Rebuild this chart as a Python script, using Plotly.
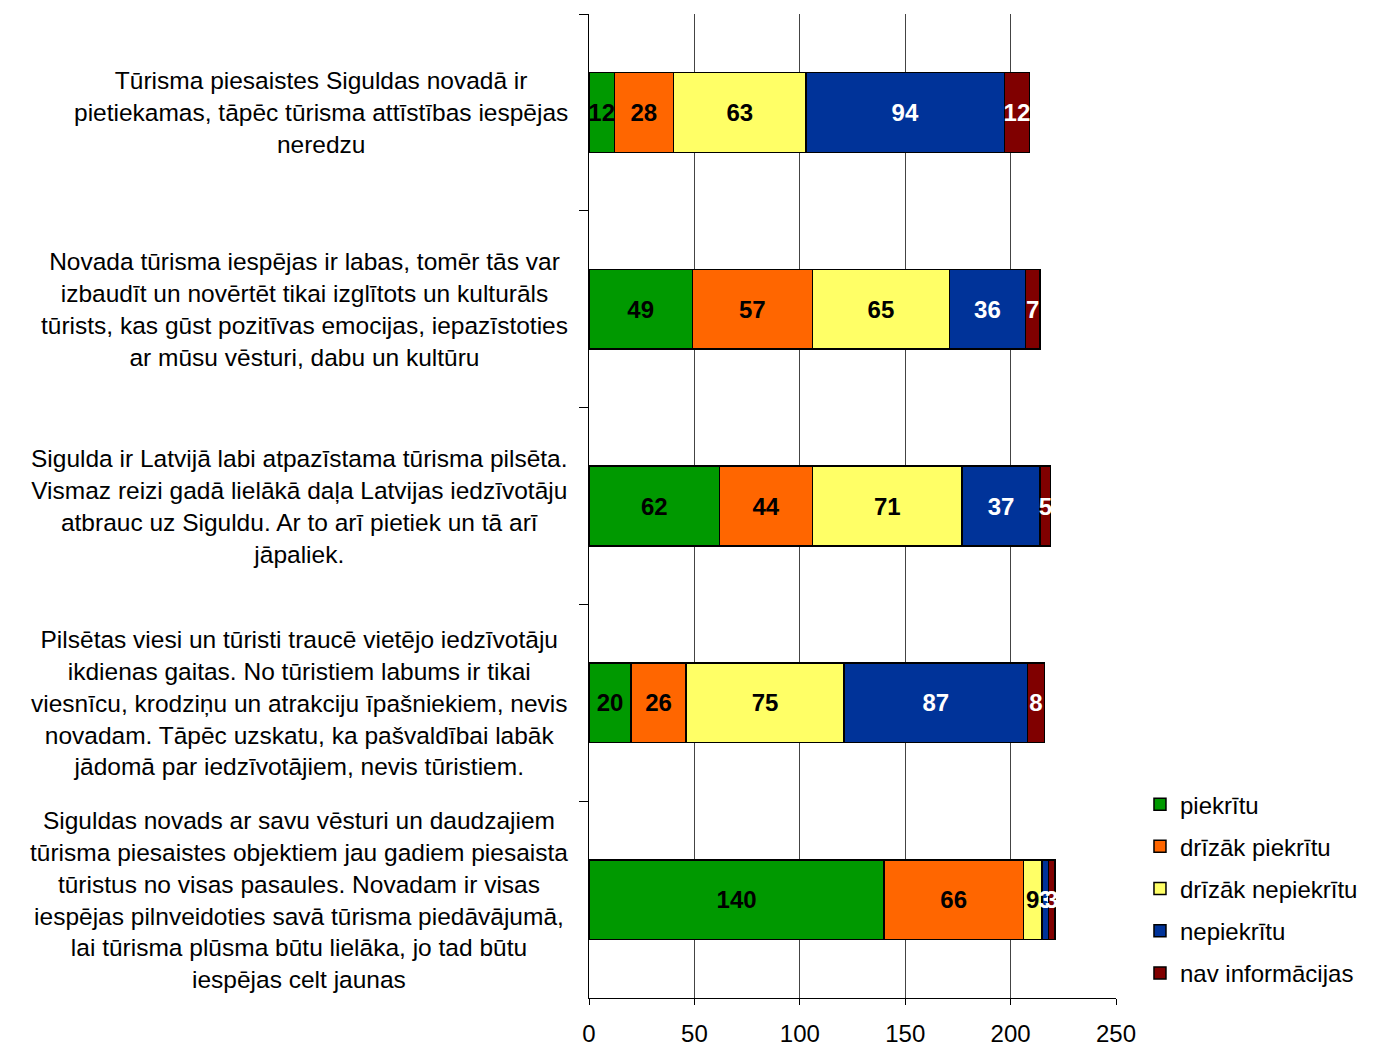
import plotly.graph_objects as go

categories = [
    "Tūrisma piesaistes Siguldas novadā ir<br>pietiekamas, tāpēc tūrisma attīstības iespējas<br>neredzu",
    "Novada tūrisma iespējas ir labas, tomēr tās var<br>izbaudīt un novērtēt tikai izglītots un kulturāls<br>tūrists, kas gūst pozitīvas emocijas, iepazīstoties<br>ar mūsu vēsturi, dabu un kultūru",
    "Sigulda ir Latvijā labi atpazīstama tūrisma pilsēta.<br>Vismaz reizi gadā lielākā daļa Latvijas iedzīvotāju<br>atbrauc uz Siguldu. Ar to arī pietiek un tā arī<br>jāpaliek.",
    "Pilsētas viesi un tūristi traucē vietējo iedzīvotāju<br>ikdienas gaitas. No tūristiem labums ir tikai<br>viesnīcu, krodziņu un atrakciju īpašniekiem, nevis<br>novadam. Tāpēc uzskatu, ka pašvaldībai labāk<br>jādomā par iedzīvotājiem, nevis tūristiem.",
    "Siguldas novads ar savu vēsturi un daudzajiem<br>tūrisma piesaistes objektiem jau gadiem piesaista<br>tūristus no visas pasaules. Novadam ir visas<br>iespējas pilnveidoties savā tūrisma piedāvājumā,<br>lai tūrisma plūsma būtu lielāka, jo tad būtu<br>iespējas celt jaunas",
]
cat_ids = ["c1", "c2", "c3", "c4", "c5"]

series_names = ["piekrītu", "drīzāk piekrītu", "drīzāk nepiekrītu", "nepiekrītu", "nav informācijas"]
piekritu = [12, 49, 62, 20, 140]
drizak_piekritu = [28, 57, 44, 26, 66]
drizak_nepiekritu = [63, 65, 71, 75, 9]
nepiekritu = [94, 36, 37, 87, 3]
nav_informacijas = [12, 7, 5, 8, 3]

series_values = [piekritu, drizak_piekritu, drizak_nepiekritu, nepiekritu, nav_informacijas]
colors = ["#009900", "#FF6600", "#FFFF66", "#003399", "#800000"]
text_colors = ["black", "black", "black", "white", "white"]

x_ticks = [0, 50, 100, 150, 200, 250]

fig = go.Figure()
for i, (name, vals) in enumerate(zip(series_names, series_values)):
    fig.add_trace(go.Bar(
        y=cat_ids,
        x=vals,
        name=name,
        orientation="h",
        legendgroup=name,
        marker=dict(color=colors[i], line=dict(color="black", width=1.5)),
        text=[str(v) for v in vals],
        textposition="inside",
        insidetextanchor="middle",
        textangle=0,
        constraintext="none",
        textfont=dict(family="Arial", size=24, color=text_colors[i], weight="bold"),
        cliponaxis=False,
        hoverinfo="x+name",
    ))

# category texts sit left of the axis, centred lines, right edge ~20px from the axis
annotations = []
for cid, label in zip(cat_ids, categories):
    annotations.append(dict(
        x=-0.037, xref="paper", xanchor="right",
        y=cid, yref="y", yanchor="middle",
        text=label, showarrow=False, align="center",
        font=dict(family="Arial", size=24.5, color="black"),
    ))

fig.update_layout(
    barmode="stack",
    bargap=0.595,
    width=1381, height=1047,
    paper_bgcolor="white", plot_bgcolor="white",
    margin=dict(l=589, r=265, t=14, b=49, autoexpand=False),
    font=dict(family="Arial", size=24, color="black"),
    annotations=annotations,
    showlegend=True,
    legend=dict(
        x=1.0455, xanchor="left", y=0.003, yanchor="bottom",
        traceorder="grouped", tracegroupgap=8,
        font=dict(family="Arial", size=24, color="black"),
        itemwidth=30,
    ),
    xaxis=dict(
        range=[0, 250], tickvals=x_ticks, automargin=False,
        showgrid=True, gridcolor="#444444", gridwidth=1,
        zeroline=False, showline=True, linecolor="black", linewidth=1,
        ticks="outside", ticklen=6, tickcolor="black", ticklabelstandoff=8,
        tickfont=dict(family="Arial", size=24, color="black"),
    ),
    yaxis=dict(
        autorange="reversed", type="category", automargin=False,
        showticklabels=False, showgrid=False, zeroline=False,
        showline=True, linecolor="black", linewidth=1,
        ticks="outside", tickson="boundaries", ticklen=9, tickcolor="black",
    ),
)

# drop the default 8px page margin so the figure fills the window exactly
fig.write_html(
    "out.html",
    config={"displayModeBar": False},
    post_script="document.body.style.margin='0';",
)
